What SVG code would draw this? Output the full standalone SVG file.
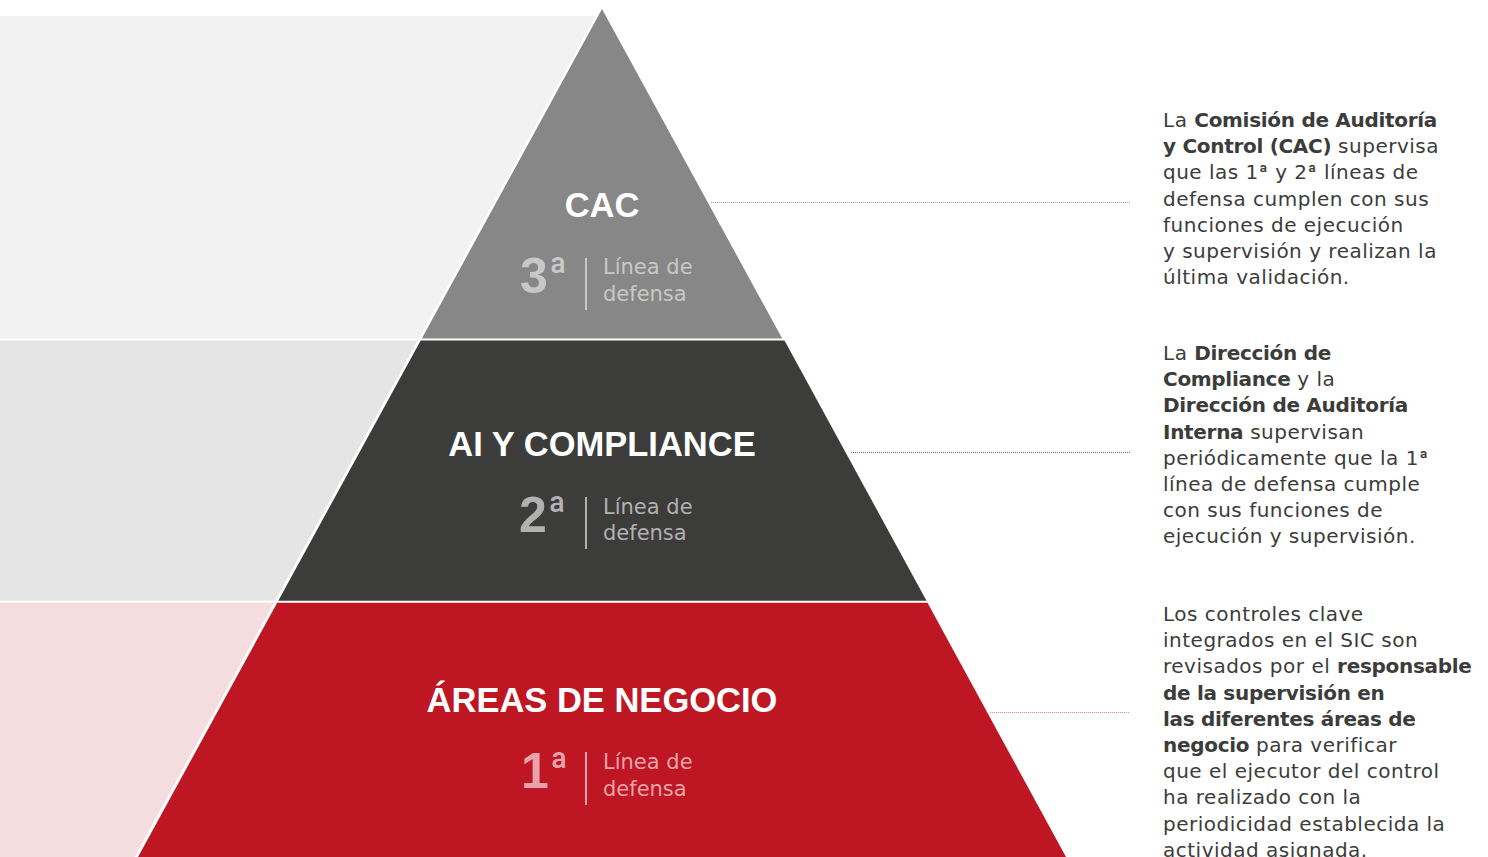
<svg xmlns="http://www.w3.org/2000/svg" width="1488" height="857" viewBox="0 0 1488 857">
  <style>
    .title { font-family: "Liberation Sans", Arial, sans-serif; font-weight: bold; font-size: 34.5px; fill: #ffffff; text-anchor: middle; }
    .num { font-family: "Liberation Sans", Arial, sans-serif; font-weight: bold; font-size: 50px; }
    .ord { font-family: Roboto, "Liberation Sans", sans-serif; font-weight: bold; font-size: 41px; }
    .lbl { font-family: "DejaVu Sans", sans-serif; font-size: 21px; }
    .body { font-family: "DejaVu Sans", sans-serif; font-size: 20px; fill: #3c3c3b; letter-spacing: 0.5px; }
    .body .b { font-weight: bold; letter-spacing: -0.3px; }
    .body .o { font-family: Roboto, "DejaVu Sans", sans-serif; }
    .on-gray { fill: #c8c8c8; }
    .on-dark { fill: #b1b1b1; }
    .on-red { fill: #eaa3aa; }
    .div { stroke-width: 2; }
    .lead { fill: none; stroke-width: 1; stroke-dasharray: 1 1; }
  </style>

  <!-- background bands on the left -->
  <g id="bands">
    <rect x="0" y="16" width="602" height="322.5" fill="#f2f2f2"/>
    <rect x="0" y="340.5" width="602" height="260.2" fill="#e5e5e5"/>
    <rect x="0" y="602.7" width="602" height="254.3" fill="#f4dcdf"/>
    <!-- white margin along the pyramid edge -->
    <polygon points="602,4.4 134.5,857 1069.5,857" fill="#ffffff"/>
  </g>

  <!-- top tier -->
  <g id="tier-cac">
    <polygon points="602,9 421.8,338.5 782.2,338.5" fill="#878787"/>
    <text class="title" x="602" y="217">CAC</text>
    <text class="num on-gray" x="520" y="293">3<tspan class="ord" dx="1" dy="-7">ª</tspan></text>
    <line class="div" x1="586" y1="258" x2="586" y2="310" stroke="#c8c8c8"/>
    <text class="lbl on-gray" x="603" y="274">Línea de</text>
    <text class="lbl on-gray" x="603" y="301">defensa</text>
  </g>

  <!-- middle tier -->
  <g id="tier-ai-compliance">
    <polygon points="420.7,340.5 784.5,340.5 926.5,600.7 278.3,600.7" fill="#3c3c3b"/>
    <text class="title" x="602" y="456">AI Y COMPLIANCE</text>
    <text class="num on-dark" x="519" y="532">2<tspan class="ord" dx="1" dy="-7">ª</tspan></text>
    <line class="div" x1="586" y1="497" x2="586" y2="549" stroke="#b1b1b1"/>
    <text class="lbl on-dark" x="603" y="514">Línea de</text>
    <text class="lbl on-dark" x="603" y="540">defensa</text>
  </g>

  <!-- bottom tier -->
  <g id="tier-areas">
    <polygon points="277.2,602.7 927.5,602.7 1066,857 138,857" fill="#be1622"/>
    <text class="title" x="602" y="712">ÁREAS DE NEGOCIO</text>
    <text class="num on-red" x="521" y="788">1<tspan class="ord" dx="1" dy="-7">ª</tspan></text>
    <line class="div" x1="586" y1="752" x2="586" y2="805" stroke="#eaa3aa"/>
    <text class="lbl on-red" x="603" y="769">Línea de</text>
    <text class="lbl on-red" x="603" y="796">defensa</text>
  </g>

  <!-- dotted leaders from each tier to its note -->
  <g id="connectors">
    <line class="lead" x1="711" y1="202.5" x2="1130" y2="202.5" stroke="#9d9d9d"/>
    <line class="lead" x1="851" y1="452.5" x2="1130" y2="452.5" stroke="#6f6f6f"/>
    <line class="lead" x1="990" y1="712.5" x2="1130" y2="712.5" stroke="#e0868c"/>
  </g>

  <!-- notes -->
  <g id="note-cac">
    <text class="body" x="1163" y="127">La <tspan class="b">Comisión de Auditoría</tspan></text>
    <text class="body" x="1163" y="153.2"><tspan class="b">y Control (CAC)</tspan> supervisa</text>
    <text class="body" x="1163" y="179.4">que las 1<tspan class="o">ª</tspan> y 2<tspan class="o">ª</tspan> líneas de</text>
    <text class="body" x="1163" y="205.6">defensa cumplen con sus</text>
    <text class="body" x="1163" y="231.8">funciones de ejecución</text>
    <text class="body" x="1163" y="258">y supervisión y realizan la</text>
    <text class="body" x="1163" y="284.2">última validación.</text>
  </g>

  <g id="note-ai-compliance">
    <text class="body" x="1163" y="360">La <tspan class="b">Dirección de</tspan></text>
    <text class="body" x="1163" y="386.2"><tspan class="b">Compliance</tspan> y la</text>
    <text class="body" x="1163" y="412.4"><tspan class="b">Dirección de Auditoría</tspan></text>
    <text class="body" x="1163" y="438.6"><tspan class="b">Interna</tspan> supervisan</text>
    <text class="body" x="1163" y="464.8">periódicamente que la 1<tspan class="o">ª</tspan></text>
    <text class="body" x="1163" y="491">línea de defensa cumple</text>
    <text class="body" x="1163" y="517.2">con sus funciones de</text>
    <text class="body" x="1163" y="543.4">ejecución y supervisión.</text>
  </g>

  <g id="note-areas">
    <text class="body" x="1163" y="621">Los controles clave</text>
    <text class="body" x="1163" y="647.2">integrados en el SIC son</text>
    <text class="body" x="1163" y="673.4">revisados por el <tspan class="b">responsable</tspan></text>
    <text class="body" x="1163" y="699.6"><tspan class="b">de la supervisión en</tspan></text>
    <text class="body" x="1163" y="725.8"><tspan class="b">las diferentes áreas de</tspan></text>
    <text class="body" x="1163" y="752"><tspan class="b">negocio</tspan> para verificar</text>
    <text class="body" x="1163" y="778.2">que el ejecutor del control</text>
    <text class="body" x="1163" y="804.4">ha realizado con la</text>
    <text class="body" x="1163" y="830.6">periodicidad establecida la</text>
    <text class="body" x="1163" y="856.8">actividad asignada.</text>
  </g>
</svg>
